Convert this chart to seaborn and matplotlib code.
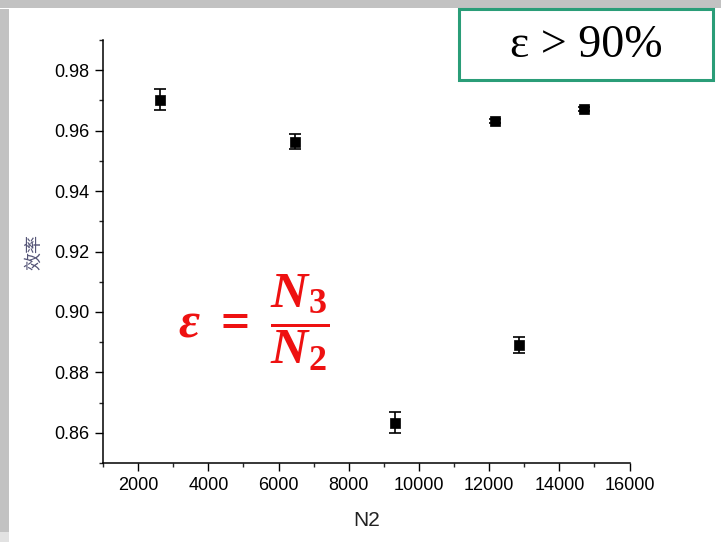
import matplotlib
matplotlib.use("Agg")
import matplotlib.pyplot as plt
import seaborn as sns
import numpy as np
import pandas as pd
from matplotlib.patches import Rectangle
from matplotlib.ticker import MultipleLocator

# Data
n2 = [2620, 6470, 9320, 12170, 12850, 14700]
eff = [0.9703, 0.9564, 0.8634, 0.9632, 0.8891, 0.9671]
err = [0.0034, 0.0024, 0.0035, 0.0008, 0.0026, 0.0006]
x_label = "N2"
y_label = "效率"
box_text = "ε > 90%"
formula = r"$\varepsilon\ =\ \dfrac{N_3}{N_2}$"

sns.set_theme(style="ticks")
plt.rcParams['font.family'] = ['Liberation Sans', 'Noto Sans CJK SC', 'DejaVu Sans']
plt.rcParams['mathtext.fontset'] = 'custom'
plt.rcParams['mathtext.it'] = 'Liberation Serif:bold:italic'
plt.rcParams['mathtext.rm'] = 'Liberation Serif:bold'
plt.rcParams['mathtext.bf'] = 'Liberation Serif:bold'

fig = plt.figure(figsize=(7.26, 5.42), dpi=100, facecolor='white')
# frame shadow
fig.patches.append(Rectangle((0, 0), 9/726, 1 - 9/542, transform=fig.transFigure,
                             facecolor='#c2c2c2', edgecolor='none', zorder=0))
fig.patches.append(Rectangle((0, 1 - 8/542), 721/726, 8/542, transform=fig.transFigure,
                             facecolor='#c2c2c2', edgecolor='none', zorder=0))
fig.patches.append(Rectangle((0, 0), 9/726, 10/542, transform=fig.transFigure,
                             facecolor='#e2e2e2', edgecolor='none', zorder=0))

ax = fig.add_axes([103/726, 1 - 463/542, (629.6 - 103)/726, (463 - 40)/542])
ax.set_facecolor('none')

df = pd.DataFrame({x_label: n2, y_label: eff})
ax.errorbar(n2, eff, yerr=err, fmt='none', ecolor='black', elinewidth=1.2,
            capsize=4, capthick=1.2, zorder=2)
sns.scatterplot(data=df, x=x_label, y=y_label, marker='s', s=62, color='black',
                edgecolor='black', linewidth=0.5, ax=ax, zorder=3)

ax.set_xlim(1000, 16000)
ax.set_ylim(0.85, 0.99)
ax.xaxis.set_major_locator(MultipleLocator(2000))
ax.xaxis.set_minor_locator(MultipleLocator(1000))
ax.yaxis.set_major_locator(MultipleLocator(0.02))
ax.yaxis.set_minor_locator(MultipleLocator(0.01))
ax.set_xticks([2000, 4000, 6000, 8000, 10000, 12000, 14000, 16000])
ax.set_yticks([0.86, 0.88, 0.90, 0.92, 0.94, 0.96, 0.98])
ax.set_yticklabels([f"{v:.2f}" for v in [0.86, 0.88, 0.90, 0.92, 0.94, 0.96, 0.98]])
ax.tick_params(axis='both', which='major', direction='out', length=6, width=1,
               labelsize=13, colors='black', pad=4)
ax.tick_params(axis='both', which='minor', direction='out', length=3, width=1)
for s in ['top', 'right']:
    ax.spines[s].set_visible(False)
for s in ['left', 'bottom']:
    ax.spines[s].set_linewidth(1.1)
    ax.spines[s].set_color('black')

ax.set_xlabel(x_label, fontsize=15, color='#222222', labelpad=12)
ax.set_ylabel(y_label, fontsize=13, color='#555577', labelpad=8,
              family=['Noto Sans CJK SC', 'DejaVu Sans'])

# green box annotation
fig.patches.append(Rectangle((459/726, 1 - 80/542), (713 - 459)/726, (80 - 9)/542,
                             transform=fig.transFigure, facecolor='white',
                             edgecolor='#2a9d78', linewidth=2.2, zorder=5))
fig.text(586/726, 1 - 46/542, box_text, ha='center', va='center', fontsize=33,
         family=['Liberation Serif', 'DejaVu Serif'], color='black', zorder=6)

fig.text(254/726, 1 - 323/542, formula, ha='center', va='center', fontsize=37,
         color='#ee1111', zorder=6)

fig.savefig("out.png", dpi=100, facecolor='white')
